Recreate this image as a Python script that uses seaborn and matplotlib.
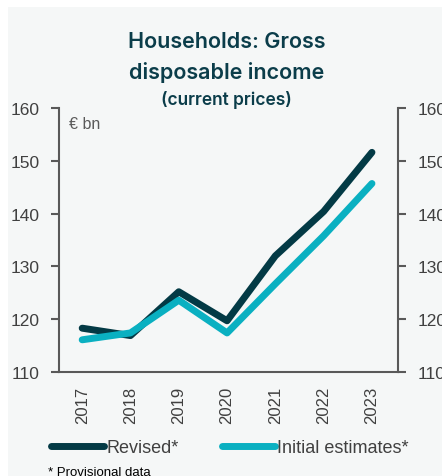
import numpy as np
import pandas as pd
import matplotlib.pyplot as plt
import seaborn as sns
from matplotlib.lines import Line2D

# data
years = [2017, 2018, 2019, 2020, 2021, 2022, 2023]
revised = [118.3, 116.9, 125.2, 119.7, 132.0, 140.4, 151.6]
initial = [116.1, 117.4, 123.6, 117.4, 126.7, 135.8, 145.7]
series_names = ['Revised*', 'Initial estimates*']
yticks = [110, 120, 130, 140, 150, 160]

df = pd.DataFrame({'Year': years * 2,
                   'Value': revised + initial,
                   'Series': [series_names[0]] * len(years) + [series_names[1]] * len(years)})

sns.set_style('white')
plt.rcParams['font.family'] = ['Liberation Sans', 'DejaVu Sans']

bg = '#F5F7F7'
dark = '#033A45'
cyan = '#0AB0C1'
grey = '#595959'

fig = plt.figure(figsize=(4.42, 4.77), dpi=100)
fig.patch.set_facecolor('white')
# light panel behind everything
fig.patches.append(plt.Rectangle((8 / 442, 0), 1, 1 - 8 / 477, transform=fig.transFigure,
                                 facecolor=bg, edgecolor='none', zorder=-10))

ax = fig.add_axes([0.1335, 0.218, 0.767, 0.5535])
ax.set_facecolor(bg)
sns.lineplot(data=df, x='Year', y='Value', hue='Series', palette=[dark, cyan],
             linewidth=5, ax=ax, legend=False, solid_capstyle='round')

ax.set_ylim(110, 160)
ax.set_xlim(2016.52, 2023.54)
ax.set_yticks(yticks)
ax.set_xticks(years)
ax.set_xticklabels([str(y) for y in years], rotation=90)
ax.set_xlabel('')
ax.set_ylabel('')
for s in ['top', 'right']:
    ax.spines[s].set_visible(False)
for s in ['left', 'bottom']:
    ax.spines[s].set_color(grey)
    ax.spines[s].set_linewidth(1.5)
ax.tick_params(axis='y', direction='out', length=6, width=1.5, color=grey,
               labelsize=12.5, labelcolor='#404040', pad=8)
ax.tick_params(axis='x', length=0, labelsize=12, labelcolor='#404040', pad=10)

ax2 = ax.twinx()
ax2.set_ylim(110, 160)
ax2.set_yticks(yticks)
for s in ['top', 'left', 'bottom']:
    ax2.spines[s].set_visible(False)
ax2.spines['right'].set_color(grey)
ax2.spines['right'].set_linewidth(1.5)
ax2.tick_params(axis='y', direction='out', length=6, width=1.5, color=grey,
                labelsize=12.5, labelcolor='#404040', pad=8)

ax.text(0.03, 0.97, '€ bn', transform=ax.transAxes, ha='left', va='top',
        fontsize=11.5, color=grey)

# title
title_font = ['Inter', 'DejaVu Sans']
fig.text(0.513, 0.912, 'Households: Gross', ha='center', va='center',
         fontsize=15.5, fontweight='semibold', color='#0B3D4A', family=title_font)
fig.text(0.513, 0.849, 'disposable income', ha='center', va='center',
         fontsize=15.5, fontweight='semibold', color='#0B3D4A', family=title_font)
fig.text(0.513, 0.790, '(current prices)', ha='center', va='center',
         fontsize=12.5, fontweight='semibold', color='#0B3D4A', family=title_font)

# legend
handles = [Line2D([0], [0], color=dark, lw=5, solid_capstyle='round'),
           Line2D([0], [0], color=cyan, lw=5, solid_capstyle='round')]
fig.legend(handles, series_names, loc='center left', bbox_to_anchor=(0.10, 0.059),
           ncol=2, frameon=False, fontsize=13, handlelength=2.9, handletextpad=0.15,
           columnspacing=2.4, labelcolor='#404040', borderaxespad=0)

fig.text(0.108, 0.008, '* Provisional data', ha='left', va='center', fontsize=9.5, color='black')

plt.savefig('out.png', dpi=100, facecolor='white')
plt.close()
